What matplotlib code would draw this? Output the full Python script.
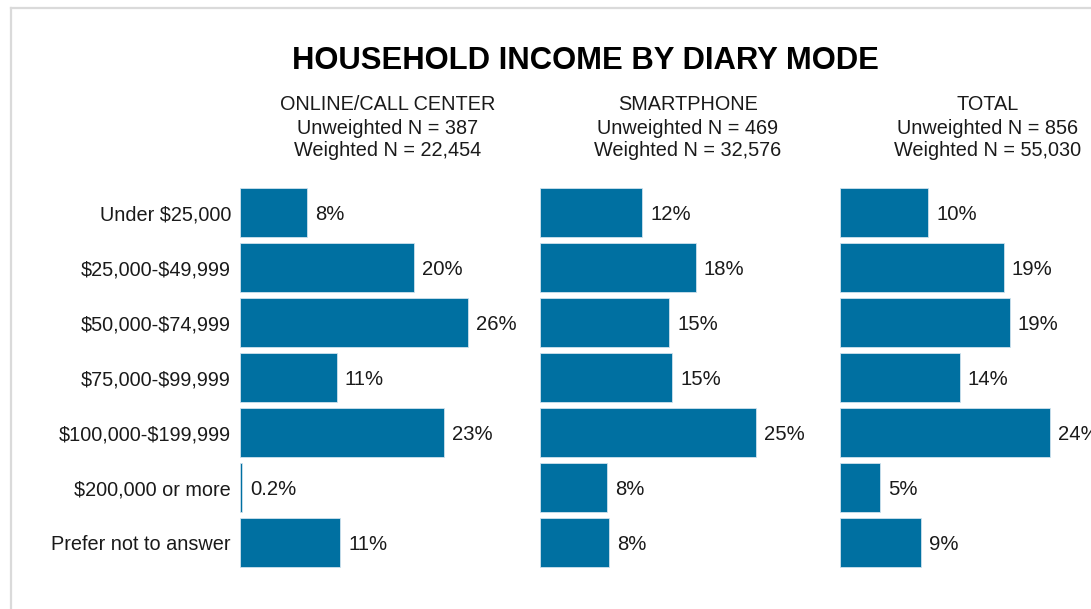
import matplotlib
matplotlib.use("Agg")
import matplotlib.pyplot as plt
from matplotlib.lines import Line2D

plt.rcParams['font.family'] = ['Liberation Sans', 'DejaVu Sans']

categories = ["Under $25,000", "$25,000-$49,999", "$50,000-$74,999", "$75,000-$99,999",
              "$100,000-$199,999", "$200,000 or more", "Prefer not to answer"]
panel_names = ["ONLINE/CALL CENTER", "SMARTPHONE", "TOTAL"]
unweighted_n = ["387", "469", "856"]
weighted_n = ["22,454", "32,576", "55,030"]
online_call_center = [7.6, 19.8, 25.9, 11.0, 23.2, 0.2, 11.4]
smartphone = [11.6, 17.7, 14.7, 15.0, 24.6, 7.6, 7.8]
total = [10.0, 18.6, 19.3, 13.6, 23.9, 4.6, 9.2]
series = [online_call_center, smartphone, total]

W, H = 1091, 609
fig = plt.figure(figsize=(W / 100, H / 100), dpi=100)
fig.patch.set_facecolor('white')

# light frame (top and left)
fig.add_artist(Line2D([11.5 / W, 11.5 / W], [0, 1 - 8 / H], transform=fig.transFigure,
                      color='#dadada', lw=1.6))
fig.add_artist(Line2D([11.5 / W, 1], [1 - 8 / H, 1 - 8 / H], transform=fig.transFigure,
                      color='#dadada', lw=1.6))

fig.text(585 / W, 1 - 61 / H, "HOUSEHOLD INCOME BY DIARY MODE", ha='center', va='center',
         fontsize=22.3, fontweight='bold', color='black')

bar_color = '#0070a1'
text_color = '#1a1a1a'
fs = 14.3
px_per_pct = 8.8
panel_w = 296
x0s = [240, 540, 840]
ax_top, ax_bot = 185, 570

for k, (vals, x0) in enumerate(zip(series, x0s)):
    ax = fig.add_axes([x0 / W, (H - ax_bot) / H, panel_w / W, (ax_bot - ax_top) / H])
    ypos = list(range(len(categories)))
    ax.barh(ypos, vals, height=0.9, color=bar_color, edgecolor='#cfe2ee', linewidth=0.6)
    ax.set_xlim(0, panel_w / px_per_pct)
    ax.set_ylim(len(categories) - 0.5, -0.5)
    for y, v in zip(ypos, vals):
        lab = f"{v:.1f}%" if v < 1 else f"{v:.0f}%"
        ax.annotate(lab, (v, y), xytext=(8, 0), textcoords='offset pixels',
                    ha='left', va='center_baseline', fontsize=fs + 0.3, color=text_color,
                    annotation_clip=False)
    ax.set_xticks([])
    if k == 0:
        ax.set_yticks(ypos)
        ax.set_yticklabels([c.replace('$', r'\$') for c in categories], fontsize=fs, color=text_color)
        ax.tick_params(axis='y', length=0, pad=6.5)
    else:
        ax.set_yticks([])
    for s in ax.spines.values():
        s.set_visible(False)
    ax.patch.set_alpha(0)

    cx = (x0 + 148) / W
    fig.text(cx, 1 - 103 / H, panel_names[k], ha='center', va='center_baseline', fontsize=fs, color=text_color)
    fig.text(cx, 1 - 126 / H, f"Unweighted N = {unweighted_n[k]}", ha='center', va='center_baseline',
             fontsize=fs, color=text_color)
    fig.text(cx, 1 - 149 / H, f"Weighted N = {weighted_n[k]}", ha='center', va='center_baseline',
             fontsize=fs, color=text_color)

fig.savefig("out.png", dpi=100)
